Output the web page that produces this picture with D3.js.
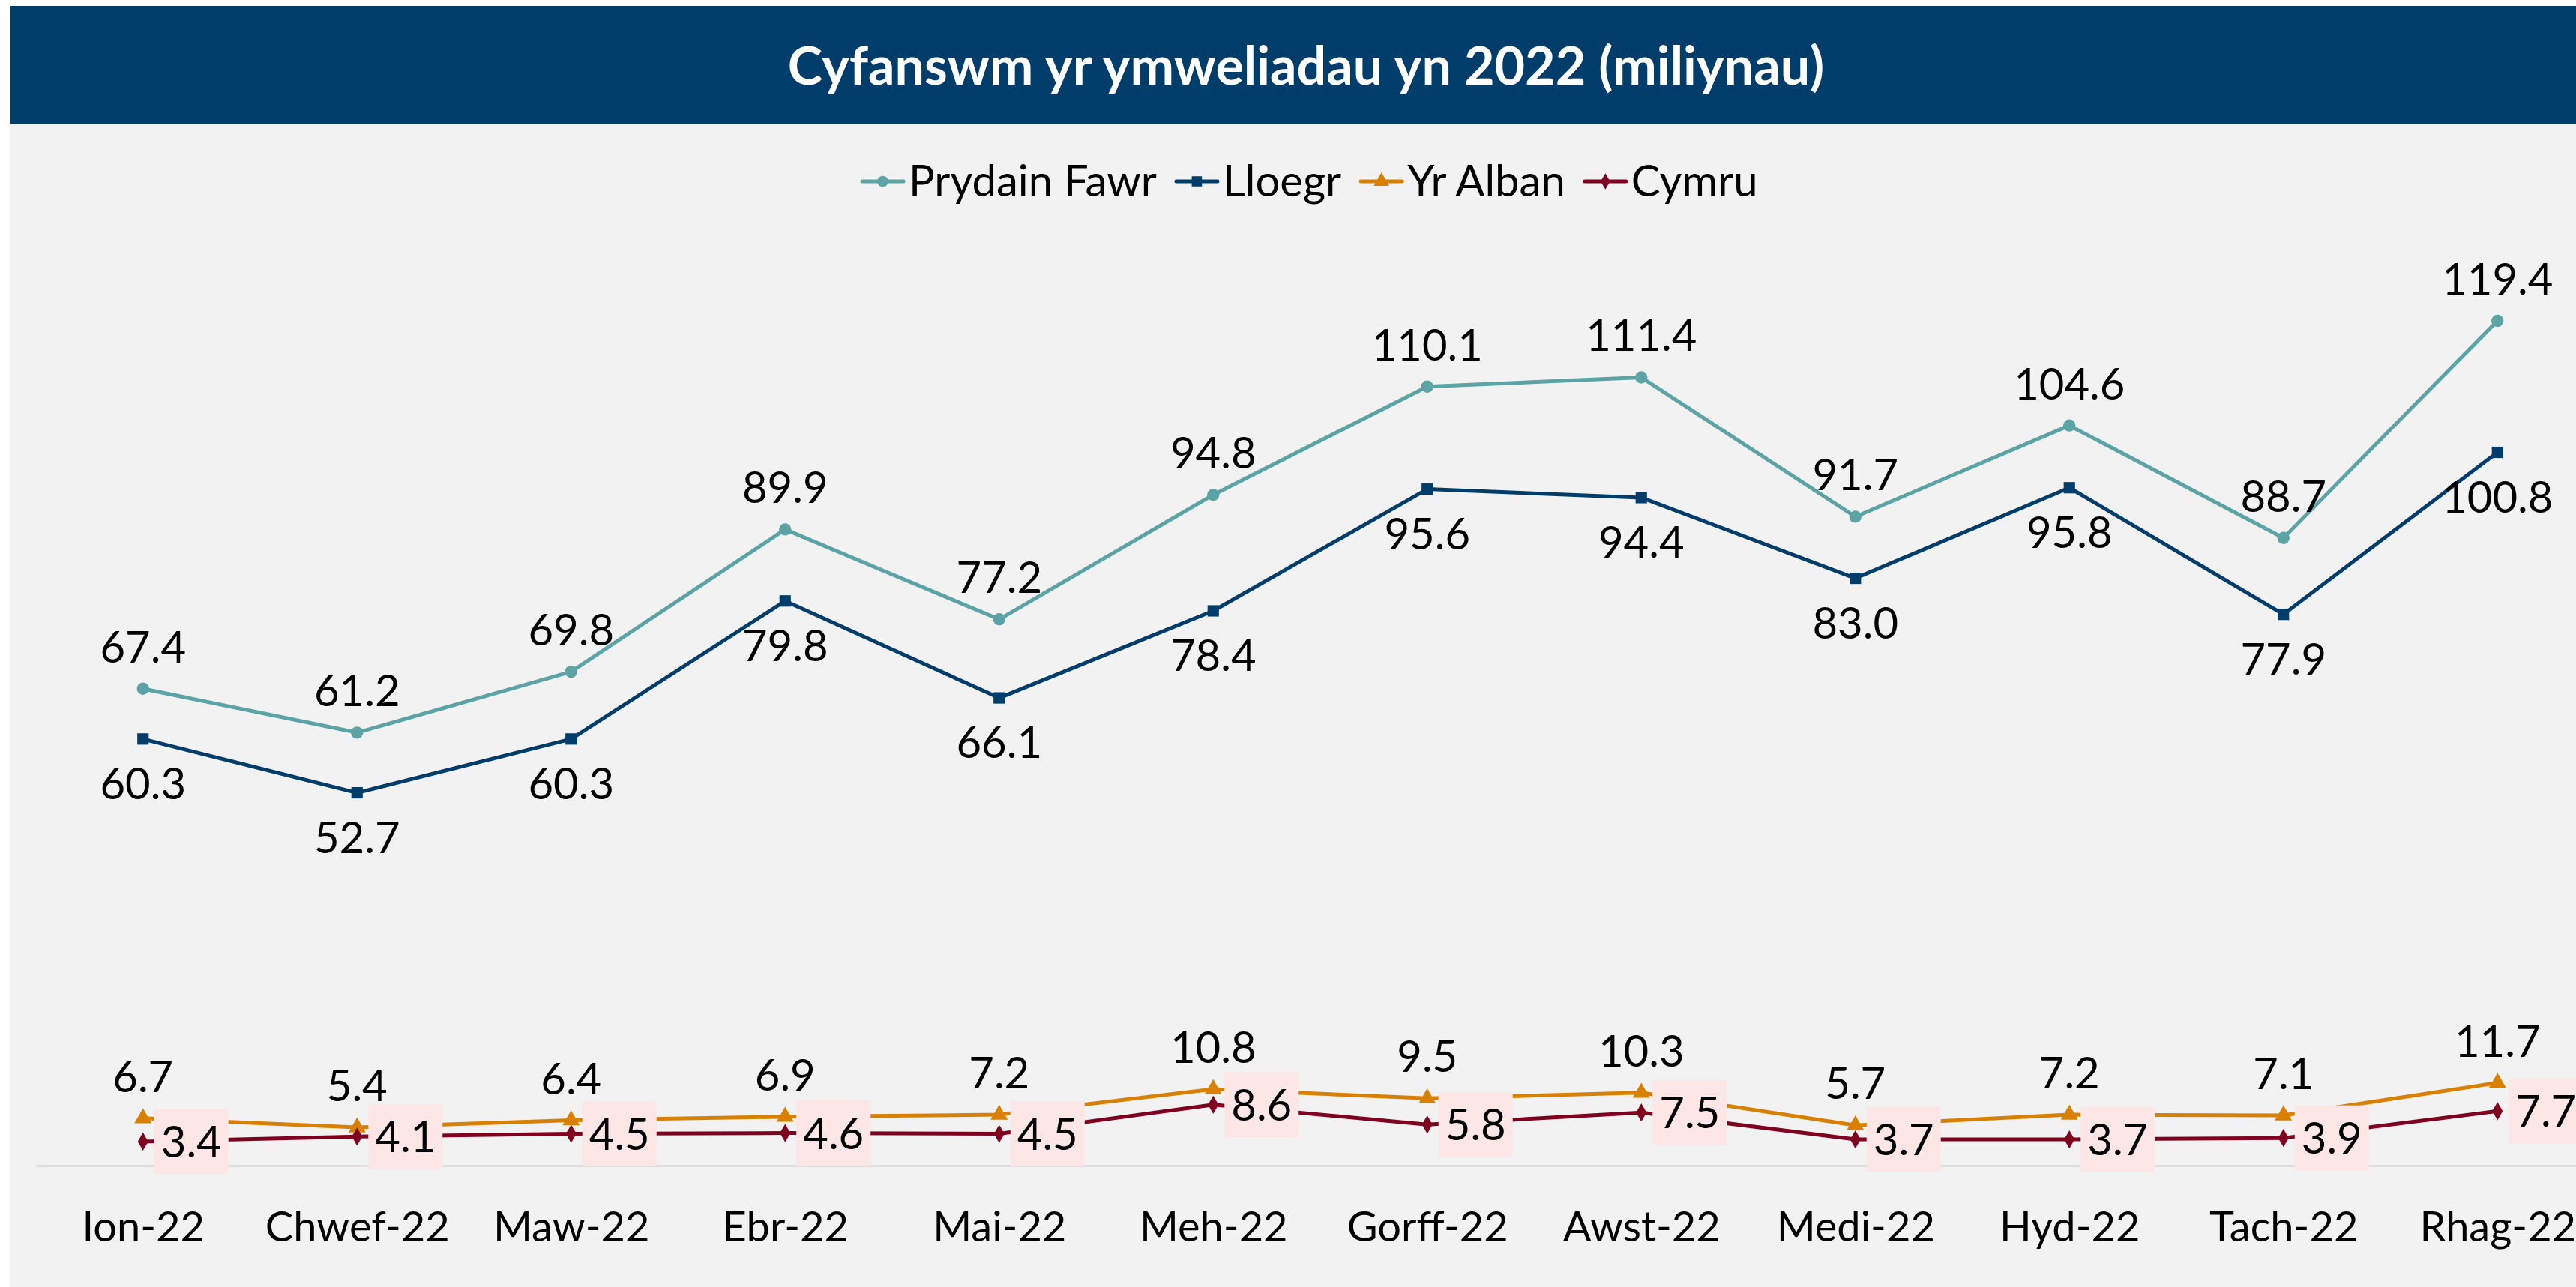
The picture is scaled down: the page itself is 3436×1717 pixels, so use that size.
<!DOCTYPE html>
<html>
<head>
<meta charset="utf-8">
<script src="https://cdn.jsdelivr.net/npm/d3@7"></script>
<style>
  html, body { margin: 0; padding: 0; background: #ffffff; }
  svg { display: block; }
  text { font-family: Lato, "Noto Sans", sans-serif; }
</style>
</head>
<body>
<svg id="chart" width="3436" height="1717"></svg>
<script>
const title = "Cyfanswm yr ymweliadau yn 2022 (miliynau)";
const months = ["Ion-22","Chwef-22","Maw-22","Ebr-22","Mai-22","Meh-22","Gorff-22","Awst-22","Medi-22","Hyd-22","Tach-22","Rhag-22"];
const seriesNames = ["Prydain Fawr","Lloegr","Yr Alban","Cymru"];
const prydainFawr = [67.4, 61.2, 69.8, 89.9, 77.2, 94.8, 110.1, 111.4, 91.7, 104.6, 88.7, 119.4];
const lloegr      = [60.3, 52.7, 60.3, 79.8, 66.1, 78.4, 95.6, 94.4, 83.0, 95.8, 77.9, 100.8];
const yrAlban     = [6.7, 5.4, 6.4, 6.9, 7.2, 10.8, 9.5, 10.3, 5.7, 7.2, 7.1, 11.7];
const cymru       = [3.4, 4.1, 4.5, 4.6, 4.5, 8.6, 5.8, 7.5, 3.7, 3.7, 3.9, 7.7];

const W = 3436, H = 1717;
const svg = d3.select("#chart");

const colors = ["#5BA3A5", "#003D6B", "#D98000", "#800020"];
const symbols = [d3.symbolCircle, d3.symbolSquare, d3.symbolTriangle, d3.symbolDiamond];
const symSizes = [210, 230, 230, 170];
const labelPos = ["above", "below", "above", "boxRight"];
const data = [prydainFawr, lloegr, yrAlban, cymru];

// background
svg.append("rect").attr("x", 0).attr("y", 0).attr("width", W).attr("height", H).attr("fill", "#ffffff");
svg.append("rect").attr("x", 13).attr("y", 8).attr("width", W - 13).attr("height", H - 8).attr("fill", "#F2F2F2");
svg.append("rect").attr("x", 13).attr("y", 8).attr("width", W - 13).attr("height", 157).attr("fill", "#003D6B");
svg.append("text").attr("x", 1742).attr("y", 113).attr("text-anchor", "middle")
  .attr("fill", "#ffffff").attr("font-weight", "bold").attr("font-size", 70).text(title);

// scales
const x = d3.scalePoint().domain(months).range([48, 3474]).padding(0.5);
const y = d3.scaleLinear().domain([0, 120]).range([1555, 422.3]);

// x axis
const xAxis = d3.axisBottom(x).tickSize(0).tickPadding(0);
const gx = svg.append("g").attr("transform", `translate(0,${y(0)})`).call(xAxis);
gx.select(".domain").attr("stroke", "#D9D9D9").attr("stroke-width", 2.5);
gx.selectAll(".tick text").attr("font-size", 56).attr("fill", "#000").attr("dy", null).attr("y", 101)
  .style("font-family", "Lato, 'Noto Sans', sans-serif");

// lines
const line = d3.line().x((d, i) => x(months[i])).y(d => y(d));
data.forEach((vals, s) => {
  svg.append("path").datum(vals).attr("d", line).attr("fill", "none")
    .attr("stroke", colors[s]).attr("stroke-width", 5).attr("stroke-linejoin", "round");
  svg.append("g").selectAll("path").data(vals).join("path")
    .attr("transform", (d, i) => `translate(${x(months[i])},${y(d)})`)
    .attr("d", d3.symbol().type(symbols[s]).size(symSizes[s]))
    .attr("fill", colors[s]);
});

// labels
const fmt = d3.format(".1f");
data.forEach((vals, s) => {
  const g = svg.append("g");
  vals.forEach((v, i) => {
    const px = x(months[i]), py = y(v);
    if (labelPos[s] === "above") {
      g.append("text").attr("x", px).attr("y", py - 35).attr("text-anchor", "middle")
        .attr("font-size", 58).attr("fill", "#000").text(fmt(v));
    } else if (labelPos[s] === "below") {
      g.append("text").attr("x", px).attr("y", py + 80).attr("text-anchor", "middle")
        .attr("font-size", 58).attr("fill", "#000").text(fmt(v));
    } else {
      const t = g.append("text").attr("x", px + 24).attr("y", py + 21)
        .attr("font-size", 58).attr("fill", "#000").text(fmt(v));
      const bw = t.node().getComputedTextLength();
      g.insert("rect", "text").attr("x", px + 15).attr("y", py - 43.5)
        .attr("width", bw + 18).attr("height", 87).attr("fill", "#FCE6E6");
    }
  });
});

// legend
const lg = svg.append("g");
let lx = 1150;
const ly = 242;
seriesNames.forEach((name, s) => {
  lg.append("line").attr("x1", lx).attr("x2", lx + 55).attr("y1", ly).attr("y2", ly)
    .attr("stroke", colors[s]).attr("stroke-width", 5).attr("stroke-linecap", "round");
  lg.append("path").attr("transform", `translate(${lx + 27.5},${ly})`)
    .attr("d", d3.symbol().type(symbols[s]).size(symSizes[s] * 0.8)).attr("fill", colors[s]);
  const t = lg.append("text").attr("x", lx + 62).attr("y", ly + 20).attr("font-size", 58)
    .attr("fill", "#000").text(name);
  lx += 62 + t.node().getComputedTextLength() + 26;
});
</script>
</body>
</html>
